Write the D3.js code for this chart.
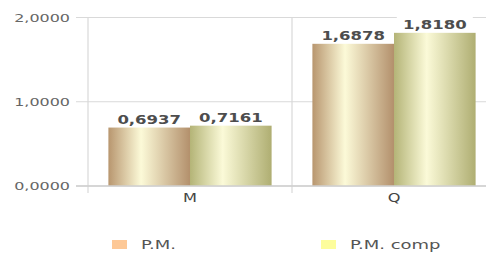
<!DOCTYPE html>
<html>
<head>
<meta charset="utf-8">
<script src="https://cdn.jsdelivr.net/npm/d3@7"></script>
<style>
body{margin:0;background:#fff;}
svg{display:block;}
</style>
</head>
<body>
<svg id="canvas" width="486" height="254"></svg>
<script>
const categories=["M","Q"];
const seriesNames=["P.M.","P.M. comp"];
const pm=[0.6937,1.6878];
const pmComp=[0.7161,1.8180];
const yTicks=[0,1,2];

let svg=d3.select("#canvas");
let fmt=v=>d3.format(".4f")(v).replace(".",",");

let x0=d3.scaleBand().domain(categories).range([88,496]);
let x1=d3.scaleBand().domain(seriesNames).range([0,x0.bandwidth()]).paddingOuter(0.25);
let y=d3.scaleLinear().domain([0,2]).range([186,17.5]);

let defs=svg.append("defs");
let grads=[
  {id:"gPM",stops:[["0%","#b8966f"],["40%","#fcfad8"],["100%","#b3906c"]]},
  {id:"gComp",stops:[["0%","#b4b477"],["40%","#fbfad8"],["100%","#afae72"]]}
];
grads.forEach(g=>{
  let lg=defs.append("linearGradient").attr("id",g.id).attr("x1","0%").attr("x2","100%").attr("y1","0%").attr("y2","0%");
  g.stops.forEach(s=>lg.append("stop").attr("offset",s[0]).attr("stop-color",s[1]));
});

// gridlines + ticks
svg.selectAll(".grid").data(yTicks).join("line")
  .attr("x1",76).attr("x2",486)
  .attr("y1",d=>y(d)).attr("y2",d=>y(d))
  .attr("stroke","#d9d9d9").attr("stroke-width",1.2);

// vertical axis + category separators
let vx=[88].concat(categories.map(c=>x0(c)+x0.bandwidth()));
svg.selectAll(".vline").data(vx).join("line")
  .attr("x1",d=>d).attr("x2",d=>d)
  .attr("y1",y(2)).attr("y2",193)
  .attr("stroke","#d9d9d9").attr("stroke-width",1.2);

// y tick labels
svg.selectAll(".ylab").data(yTicks).join("text")
  .attr("transform",d=>`translate(70,${y(d)+4}) scale(1.45,1)`)
  .attr("text-anchor","end")
  .style("font","11px 'DejaVu Sans'").style("fill","#666")
  .text(d=>fmt(d));

let data=[];
categories.forEach((c,i)=>{
  data.push({cat:c,s:seriesNames[0],v:pm[i],g:"gPM"});
  data.push({cat:c,s:seriesNames[1],v:pmComp[i],g:"gComp"});
});

svg.selectAll(".bar").data(data).join("rect")
  .attr("x",d=>x0(d.cat)+x1(d.s))
  .attr("y",d=>y(d.v))
  .attr("width",x1.bandwidth())
  .attr("height",d=>y(0)-y(d.v))
  .attr("fill",d=>`url(#${d.g})`);

// white box behind value labels (breaks the gridline like the original)
svg.selectAll(".vbox").data(data).join("rect")
  .attr("x",d=>x0(d.cat)+x1(d.s)+x1.bandwidth()/2-38)
  .attr("y",d=>y(d.v)-17)
  .attr("width",76).attr("height",15)
  .attr("fill","#fff");

svg.selectAll(".vlab").data(data).join("text")
  .attr("transform",d=>`translate(${x0(d.cat)+x1(d.s)+x1.bandwidth()/2},${y(d.v)-4}) scale(1.27,1)`)
  .attr("text-anchor","middle")
  .style("font","bold 13px 'DejaVu Sans'").style("fill","#4d4d4d")
  .text(d=>fmt(d.v));

// baseline
svg.append("line").attr("x1",76).attr("x2",486).attr("y1",y(0)).attr("y2",y(0))
  .attr("stroke","#cfcfcf").attr("stroke-width",1.5);

svg.selectAll(".xlab").data(categories).join("text")
  .attr("transform",d=>`translate(${x0(d)+x0.bandwidth()/2},202) scale(1.35,1)`)
  .attr("text-anchor","middle")
  .style("font","12px 'DejaVu Sans'").style("fill","#444")
  .text(d=>d);

// legend
let legColors=["#fdc896","#fdfd9c"];
let legX=[112,321];
seriesNames.forEach((s,i)=>{
  svg.append("rect").attr("x",legX[i]).attr("y",240).attr("width",15).attr("height",9).attr("fill",legColors[i]);
  svg.append("text").attr("transform",`translate(${legX[i]+29},249) scale(1.5,1)`)
    .style("font","12px 'DejaVu Sans'").style("fill","#555").text(s);
});
</script>
</body>
</html>
